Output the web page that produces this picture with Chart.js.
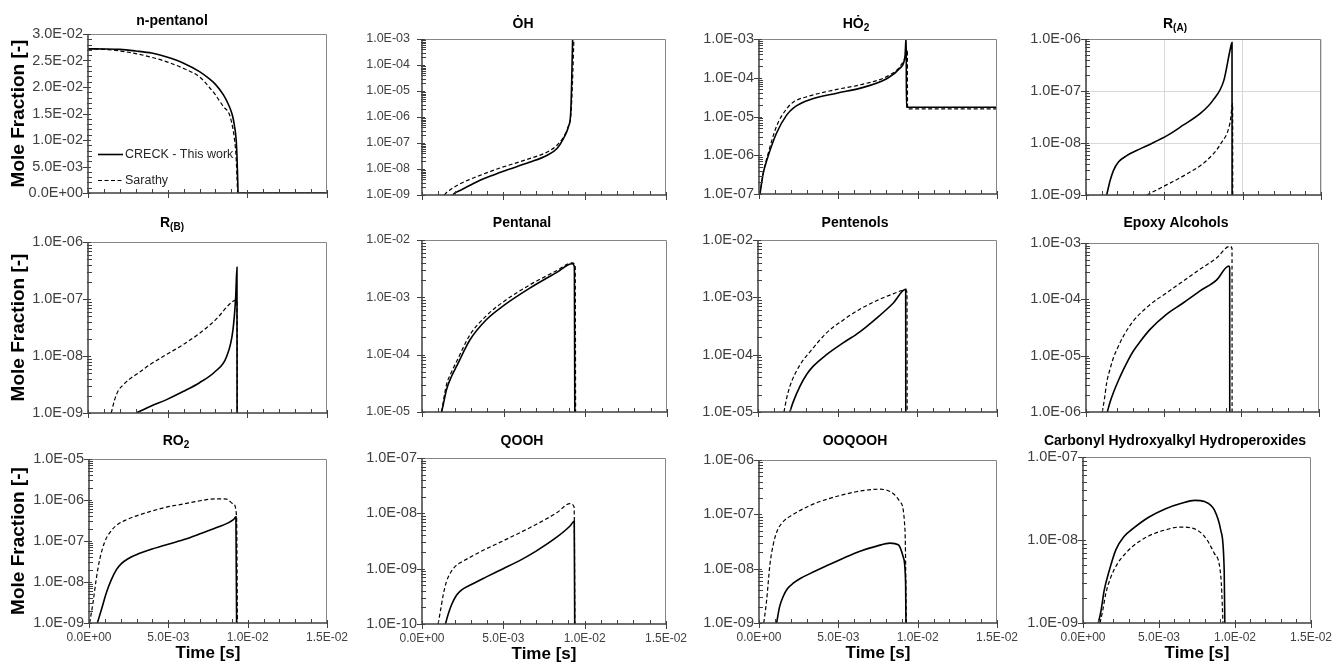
<!DOCTYPE html>
<html><head><meta charset="utf-8">
<script src="https://cdn.jsdelivr.net/npm/chart.js@4.4.1/dist/chart.umd.min.js"></script>
<style>
html,body{margin:0;padding:0;background:#fff;}
#wrap{position:relative;width:1339px;height:667px;overflow:hidden;background:#fff;}
#wrap canvas{position:absolute;left:0;top:0;}
</style></head><body><div id="wrap"></div>
<script>
// ---------- DATA: [time (s), mole fraction] ----------
const seriesLabels = ['CRECK - This work', 'Sarathy'];
const xTicks = [0, 0.005, 0.010, 0.015];

const pentanolYTicks = [0, 0.005, 0.010, 0.015, 0.020, 0.025, 0.030];
const pentanolCreck = [[0,0.0272],[0.001,0.02718],[0.002,0.0271],[0.003,0.0268],[0.004,0.0264],[0.005,0.0256],[0.006,0.0245],[0.007,0.0229],[0.0075,0.0218],[0.008,0.0205],[0.0085,0.0185],[0.0088,0.0168],[0.009,0.0153],[0.0091,0.0142],[0.0092,0.0125],[0.0093,0.0100],[0.00935,0.0070],[0.0094,0.0020],[0.00942,0],[0.015,0]];
const pentanolSarathy = [[0,0.0272],[0.001,0.0271],[0.002,0.0268],[0.003,0.0263],[0.004,0.0256],[0.005,0.0247],[0.006,0.0235],[0.007,0.0219],[0.0076,0.0200],[0.008,0.0185],[0.0085,0.0163],[0.00885,0.0150],[0.009,0.0135],[0.0092,0.0100],[0.0093,0.0065],[0.00935,0.0030],[0.0094,0],[0.015,0]];

const ohYTicks = [1e-9,1e-8,1e-7,1e-6,1e-5,1e-4,1e-3];
const ohCreck = [[0.00189,1e-9],[0.00203,1.2e-9],[0.00234,1.5e-9],[0.00295,2.36e-9],[0.00357,3.7e-9],[0.0043,5.6e-9],[0.005,8.2e-9],[0.0066,1.8e-8],[0.0077,3.4e-8],[0.0083,6.1e-8],[0.0087,1.5e-7],[0.009,4.2e-7],[0.00914,1.4e-6],[0.0092,2e-5],[0.00926,1e-3],[0.0093,3e-3],[0.015,3e-3]];
const ohSarathy = [[0.00137,1e-9],[0.00152,1.27e-9],[0.00182,1.75e-9],[0.00234,2.7e-9],[0.00295,4e-9],[0.00357,5.7e-9],[0.0043,8.5e-9],[0.005,1.2e-8],[0.0066,2.5e-8],[0.0077,4.5e-8],[0.0083,8.2e-8],[0.0087,1.7e-7],[0.009,4.4e-7],[0.00916,1.4e-6],[0.00925,2e-5],[0.00934,1e-3],[0.0094,3e-3],[0.015,3e-3]];

const ho2YTicks = [1e-7,1e-6,1e-5,1e-4,1e-3];
const ho2Creck = [[0.00006,1e-7],[0.00027,3.5e-7],[0.0005,7.6e-7],[0.0011,3.7e-6],[0.00175,1.1e-5],[0.0022,1.7e-5],[0.0032,2.7e-5],[0.0049,4e-5],[0.0064,5.4e-5],[0.0081,9.7e-5],[0.0089,1.8e-4],[0.0092,3.5e-4],[0.00928,1.2e-3],[0.00929,1.74e-5],[0.015,1.74e-5]];
const ho2Sarathy = [[0.00006,1e-7],[0.0003,4e-7],[0.0005,8.5e-7],[0.0011,5.5e-6],[0.00175,1.6e-5],[0.0022,2.4e-5],[0.0032,3.4e-5],[0.0049,5e-5],[0.0064,6.6e-5],[0.0081,1.1e-4],[0.0089,2e-4],[0.0093,4.2e-4],[0.00935,5.3e-4],[0.00936,1.57e-5],[0.015,1.57e-5]];

const raYTicks = [1e-9,1e-8,1e-7,1e-6];
const raCreck = [[0.00132,1e-9],[0.00154,1.9e-9],[0.00175,2.95e-9],[0.00207,4.3e-9],[0.0026,5.7e-9],[0.00345,7.7e-9],[0.0041,9.5e-9],[0.0052,1.4e-8],[0.0062,2.2e-8],[0.0073,3.7e-8],[0.0081,6.6e-8],[0.0088,1.6e-7],[0.0092,6.2e-7],[0.00932,8.5e-7],[0.00933,1e-12]];
const raSarathy = [[0.00388,1e-9],[0.0052,1.6e-9],[0.0064,2.5e-9],[0.0077,4.6e-9],[0.0086,9.7e-9],[0.0092,2.5e-8],[0.00936,5.7e-8],[0.00937,1e-12]];

const rbYTicks = [1e-9,1e-8,1e-7,1e-6];
const rbCreck = [[0.00303,1e-9],[0.0039,1.3e-9],[0.0049,1.7e-9],[0.006,2.4e-9],[0.007,3.4e-9],[0.008,5.4e-9],[0.0087,9.8e-9],[0.0091,2.9e-8],[0.00927,1.1e-7],[0.00935,3.6e-7],[0.00936,1e-12]];
const rbSarathy = [[0.00146,1e-9],[0.00167,1.7e-9],[0.00188,2.4e-9],[0.0022,3.1e-9],[0.00262,3.95e-9],[0.00324,5.2e-9],[0.00387,7e-9],[0.0049,1.05e-8],[0.006,1.6e-8],[0.007,2.5e-8],[0.008,4.3e-8],[0.0091,9.1e-8],[0.00935,9.5e-8],[0.0094,1e-12]];

const pentanalYTicks = [1e-5,1e-4,1e-3,1e-2];
const pentanalCreck = [[0.0012,1e-5],[0.0013,1.34e-5],[0.0015,2.45e-5],[0.00181,4.2e-5],[0.00212,6.3e-5],[0.00293,1.8e-4],[0.00395,4.1e-4],[0.00497,7.1e-4],[0.0066,1.45e-3],[0.00823,2.7e-3],[0.0092,3.85e-3],[0.00933,3.4e-3],[0.00938,1e-8]];
const pentanalSarathy = [[0.0012,1e-5],[0.0013,1.5e-5],[0.0015,3e-5],[0.00181,5e-5],[0.00212,7.6e-5],[0.00293,2.2e-4],[0.00395,4.8e-4],[0.00497,8.3e-4],[0.0066,1.65e-3],[0.00823,2.9e-3],[0.0092,4e-3],[0.00938,3.5e-3],[0.00942,1e-8]];

const pentenolsYTicks = [1e-5,1e-4,1e-3,1e-2];
const pentenolsCreck = [[0.002,1e-5],[0.00221,1.5e-5],[0.00263,2.8e-5],[0.00305,4.5e-5],[0.00347,6.3e-5],[0.0043,1e-4],[0.00534,1.6e-4],[0.00639,2.5e-4],[0.00743,4.3e-4],[0.00848,7.9e-4],[0.00927,1.38e-3],[0.00928,1e-8]];
const pentenolsSarathy = [[0.00163,1e-5],[0.0018,1.75e-5],[0.002,2.8e-5],[0.00232,4.6e-5],[0.00273,7.3e-5],[0.00326,1.12e-4],[0.0043,2.4e-4],[0.00534,4e-4],[0.00639,6.2e-4],[0.00743,8.7e-4],[0.00848,1.15e-3],[0.00927,1.35e-3],[0.00935,1.2e-3],[0.00937,1e-8]];

const epoxyYTicks = [1e-6,1e-5,1e-4,1e-3];
const epoxyCreck = [[0.00137,1e-6],[0.00155,1.5e-6],[0.00176,2.2e-6],[0.0021,3.7e-6],[0.0024,5.6e-6],[0.0027,8.2e-6],[0.00304,1.2e-5],[0.0035,1.8e-5],[0.00411,2.9e-5],[0.00518,5.4e-5],[0.00625,8.6e-5],[0.00732,1.4e-4],[0.0084,2.2e-4],[0.0092,3.9e-4],[0.00925,3.6e-4],[0.00926,1e-10]];
const epoxySarathy = [[0.00105,1e-6],[0.0012,1.8e-6],[0.00133,3.3e-6],[0.00155,5.8e-6],[0.00176,9.1e-6],[0.0021,1.5e-5],[0.0024,2.2e-5],[0.00304,4.1e-5],[0.00411,8e-5],[0.00518,1.3e-4],[0.00625,2.1e-4],[0.00732,3.4e-4],[0.0084,5.4e-4],[0.00925,8.7e-4],[0.0094,8e-4],[0.00941,1e-10]];

const ro2YTicks = [1e-9,1e-8,1e-7,1e-6,1e-5];
const ro2Creck = [[0.000526,1e-9],[0.00078,2.1e-9],[0.00109,5.4e-9],[0.00141,1.14e-8],[0.00173,2e-8],[0.00204,2.8e-8],[0.00246,3.7e-8],[0.0032,5e-8],[0.00383,6.1e-8],[0.00488,8.1e-8],[0.00594,1.07e-7],[0.007,1.5e-7],[0.008,2.1e-7],[0.0091,3.3e-7],[0.00926,3.9e-7],[0.00936,1e-13]];
const ro2Sarathy = [[0.00004,1e-9],[0.00025,3.1e-9],[0.00046,1.2e-8],[0.00067,3.5e-8],[0.00099,9.5e-8],[0.00131,1.6e-7],[0.00173,2.4e-7],[0.00236,3.3e-7],[0.00383,5.2e-7],[0.00488,6.7e-7],[0.00594,8e-7],[0.007,9.6e-7],[0.008,1.07e-6],[0.00867,1.05e-6],[0.0091,8e-7],[0.0093,4e-7],[0.0094,1e-13]];

const qoohYTicks = [1e-10,1e-9,1e-8,1e-7];
const qoohCreck = [[0.00144,1e-10],[0.0016,1.47e-10],[0.00181,2.2e-10],[0.00212,3.3e-10],[0.00242,4.1e-10],[0.00294,5e-10],[0.00396,7.1e-10],[0.00499,1e-9],[0.006,1.4e-9],[0.00704,2.1e-9],[0.00828,3.7e-9],[0.0091,5.9e-9],[0.00936,7.2e-9],[0.00944,1e-14]];
const qoohSarathy = [[0.00099,1e-10],[0.00113,1.7e-10],[0.0013,3.3e-10],[0.0015,5.8e-10],[0.0017,7.9e-10],[0.002,1.07e-9],[0.00232,1.26e-9],[0.00294,1.6e-9],[0.00355,2e-9],[0.005,3.2e-9],[0.00663,5.5e-9],[0.00828,1.02e-8],[0.0091,1.5e-8],[0.00935,1.3e-8],[0.00945,1e-14]];

const ooqoohYTicks = [1e-9,1e-8,1e-7,1e-6];
const ooqoohCreck = [[0.00111,1e-9],[0.0013,2e-9],[0.00153,3.1e-9],[0.0018,4.3e-9],[0.00216,5.4e-9],[0.0026,6.6e-9],[0.00321,8.1e-9],[0.00426,1.13e-8],[0.00531,1.56e-8],[0.00637,2.1e-8],[0.00742,2.6e-8],[0.00826,2.95e-8],[0.00878,2.75e-8],[0.0091,1.6e-8],[0.00924,5.4e-9],[0.00929,1e-10]];
const ooqoohSarathy = [[0.0003,1e-9],[0.00048,2.6e-9],[0.00069,1.2e-8],[0.0009,2.8e-8],[0.00115,5e-8],[0.0015,7.2e-8],[0.00216,1e-7],[0.00321,1.45e-7],[0.00384,1.72e-7],[0.00531,2.3e-7],[0.00678,2.8e-7],[0.00763,2.9e-7],[0.00847,2.4e-7],[0.00889,1.7e-7],[0.0092,5.2e-8],[0.00932,1e-10]];

const carbonylYTicks = [1e-9,1e-8,1e-7];
const carbonylCreck = [[0.00101,1e-9],[0.00119,1.42e-9],[0.0014,2.5e-9],[0.00173,4.3e-9],[0.00216,7.6e-9],[0.0027,1.1e-8],[0.00324,1.35e-8],[0.00432,1.88e-8],[0.0054,2.37e-8],[0.00648,2.77e-8],[0.00734,3e-8],[0.008,2.9e-8],[0.00864,2.3e-8],[0.00907,1.3e-8],[0.00929,4.3e-9],[0.00936,3e-10]];
const carbonylSarathy = [[0.00112,1e-9],[0.0013,1.42e-9],[0.00151,2.3e-9],[0.00184,3.6e-9],[0.00227,5.2e-9],[0.0028,6.9e-9],[0.00324,8.3e-9],[0.00432,1.12e-8],[0.0054,1.32e-8],[0.00637,1.43e-8],[0.00713,1.4e-8],[0.008,1.1e-8],[0.00864,6.9e-9],[0.00907,3.6e-9],[0.00931,3e-10]];

// ---------- LAYOUT ----------
const FONT = "'Liberation Sans', 'DejaVu Sans', Arial, sans-serif";
const panels = [
  {title:[['n-pentanol']], c:pentanolCreck, s:pentanolSarathy, yt:pentanolYTicks, log:false, box:[88,34,327,193], tx:172, ty:25, yTitle:true, legend:true, yFont:14.5, yPad:5},
  {title:[['\u022EH']], c:ohCreck, s:ohSarathy, yt:ohYTicks, log:true, box:[422,39,666,195], tx:523, ty:28, yFont:12.5, yPad:12},
  {title:[['H\u022E'],['2',1]], c:ho2Creck, s:ho2Sarathy, yt:ho2YTicks, log:true, box:[759,39,997,194], tx:856, ty:28, yFont:14.5, yPad:5},
  {title:[['R'],['(A)',1]], c:raCreck, s:raSarathy, yt:raYTicks, log:true, box:[1086,39,1321,195], tx:1175, ty:28, yFont:14.5, yPad:5, grid:true},
  {title:[['R'],['(B)',1]], c:rbCreck, s:rbSarathy, yt:rbYTicks, log:true, box:[88,242,327,413], tx:172, ty:227, yTitle:true, yFont:14.5, yPad:5},
  {title:[['Pentanal']], c:pentanalCreck, s:pentanalSarathy, yt:pentanalYTicks, log:true, box:[422,240,667,412], tx:522, ty:227, yFont:12.5, yPad:12},
  {title:[['Pentenols']], c:pentenolsCreck, s:pentenolsSarathy, yt:pentenolsYTicks, log:true, box:[758,240,997,412], tx:855, ty:227, yFont:14.5, yPad:5},
  {title:[['Epoxy Alcohols']], c:epoxyCreck, s:epoxySarathy, yt:epoxyYTicks, log:true, box:[1086,243,1319,412], tx:1176, ty:227, yFont:14.5, yPad:5},
  {title:[['RO'],['2',1]], c:ro2Creck, s:ro2Sarathy, yt:ro2YTicks, log:true, box:[89,459,327,623], tx:176, ty:445, yTitle:true, showX:true, yFont:14.5, yPad:5},
  {title:[['QOOH']], c:qoohCreck, s:qoohSarathy, yt:qoohYTicks, log:true, box:[422,458,666,624], tx:522, ty:445, showX:true, yFont:14.5, yPad:5},
  {title:[['OOQOOH']], c:ooqoohCreck, s:ooqoohSarathy, yt:ooqoohYTicks, log:true, box:[759,460,997,623], tx:855, ty:445, showX:true, yFont:14.5, yPad:5},
  {title:[['Carbonyl Hydroxyalkyl Hydroperoxides']], c:carbonylCreck, s:carbonylSarathy, yt:carbonylYTicks, log:true, box:[1083,457,1315,623], tx:1175, ty:445, showX:true, yFont:14.5, yPad:5}
];

function sci(v){
  if (Math.abs(v) < 1e-15) return '0.0E+00';
  let e = Math.floor(Math.log10(Math.abs(v)) + 1e-9);
  let m = v / Math.pow(10, e);
  if (Math.abs(m) >= 9.95) { m /= 10; e += 1; }
  return m.toFixed(1) + 'E' + (e < 0 ? '-' : '+') + String(Math.abs(e)).padStart(2, '0');
}

function makePlugin(p){
  return {
    id: 'decor',
    afterDraw(chart){
      const ctx = chart.ctx, a = chart.chartArea;
      const xs = chart.scales.x, ys = chart.scales.y;
      ctx.save();
      ctx.lineWidth = 1;
      ctx.strokeStyle = '#858585';
      ctx.beginPath();
      ctx.moveTo(a.left, a.top + 0.5); ctx.lineTo(a.right - 0.5, a.top + 0.5); ctx.lineTo(a.right - 0.5, a.bottom);
      ctx.stroke();
      ctx.strokeStyle = '#404040';
      ctx.lineWidth = 1.5;
      ctx.beginPath();
      ctx.moveTo(a.left, a.top); ctx.lineTo(a.left, a.bottom); ctx.lineTo(a.right, a.bottom);
      ctx.stroke();
      ctx.lineWidth = 1;
      ctx.beginPath();
      for (let k = 0; k <= 15; k++) {
        const px = Math.round(xs.getPixelForValue(k * 0.001)) + 0.5;
        if (k % 5 === 0) { ctx.moveTo(px, a.bottom - 3); ctx.lineTo(px, a.bottom + 5); }
        else { ctx.moveTo(px, a.bottom - 4); ctx.lineTo(px, a.bottom); }
      }
      p.yt.forEach(v => {
        const py = Math.round(ys.getPixelForValue(v)) + 0.5;
        ctx.moveTo(a.left - 5, py); ctx.lineTo(a.left + 3, py);
      });
      if (p.log) {
        for (let i = 0; i < p.yt.length - 1; i++) {
          for (let k = 2; k <= 9; k++) {
            const py = Math.round(ys.getPixelForValue(p.yt[i] * k)) + 0.5;
            ctx.moveTo(a.left - 1, py); ctx.lineTo(a.left + 4, py);
          }
        }
      } else {
        for (let k = 1; k < 30; k++) {
          if (k % 5 === 0) continue;
          const py = Math.round(ys.getPixelForValue(k * 0.001)) + 0.5;
          ctx.moveTo(a.left - 1, py); ctx.lineTo(a.left + 4, py);
        }
      }
      ctx.stroke();
      const big = 'bold 14px ' + FONT, small = 'bold 10px ' + FONT;
      let total = 0;
      p.title.forEach(seg => { ctx.font = seg[1] ? small : big; total += ctx.measureText(seg[0]).width; });
      let x = p.tx - total / 2;
      ctx.fillStyle = '#000';
      ctx.textBaseline = 'alphabetic';
      ctx.textAlign = 'left';
      p.title.forEach(seg => {
        ctx.font = seg[1] ? small : big;
        ctx.fillText(seg[0], x, p.ty + (seg[1] ? 3 : 0));
        x += ctx.measureText(seg[0]).width;
      });
      if (p.legend) {
        const rows = [154, 180];
        chart.data.datasets.forEach((ds, i) => {
          const y = rows[i] + 0.5;
          ctx.strokeStyle = ds.borderColor;
          ctx.lineWidth = ds.borderWidth;
          ctx.setLineDash(ds.borderDash || []);
          ctx.beginPath(); ctx.moveTo(98, y); ctx.lineTo(123, y); ctx.stroke();
          ctx.setLineDash([]);
          ctx.fillStyle = '#262626';
          ctx.font = '12.5px ' + FONT;
          ctx.textBaseline = 'middle';
          ctx.fillText(ds.label, 125, y);
        });
      }
      ctx.restore();
    }
  };
}

const wrap = document.getElementById('wrap');
panels.forEach(p => {
  const cv = document.createElement('canvas');
  cv.width = 1339; cv.height = 667;
  cv.style.width = '1339px'; cv.style.height = '667px';
  wrap.appendChild(cv);
  const [L, T, R, B] = p.box;
  const yW = p.yTitle ? L : 75;
  const xH = p.showX ? 42 : 0;
  new Chart(cv, {
    type: 'line',
    data: {
      datasets: [
        {label: seriesLabels[0], data: p.c, borderColor: '#000', borderWidth: 1.6, borderDash: [], pointRadius: 0, fill: false, cubicInterpolationMode: 'monotone'},
        {label: seriesLabels[1], data: p.s, borderColor: '#000', borderWidth: 1.2, borderDash: [4, 2.5], pointRadius: 0, fill: false, cubicInterpolationMode: 'monotone'}
      ]
    },
    options: {
      responsive: false, animation: false, devicePixelRatio: 1, events: [],
      layout: {padding: {left: L - yW, top: T, right: 1339 - R, bottom: 667 - B - xH}},
      plugins: {legend: {display: false}, title: {display: false}, tooltip: {enabled: false}},
      scales: {
        x: {
          type: 'linear', min: 0, max: 0.015,
          afterBuildTicks: s => { s.ticks = xTicks.map(v => ({value: v})); },
          afterFit: s => { s.height = xH; },
          grid: {display: !!p.grid, color: '#d9d9d9', drawTicks: false},
          border: {display: false},
          ticks: {display: !!p.showX, autoSkip: false, maxRotation: 0, padding: 7, color: '#404040', font: {family: FONT, size: 12}, callback: v => sci(v)},
          title: {display: !!p.showX, text: 'Time [s]', color: '#000', font: {family: FONT, size: 17, weight: 'bold'}, padding: {top: 0, bottom: 1}}
        },
        y: {
          type: p.log ? 'logarithmic' : 'linear',
          min: p.yt[0], max: p.yt[p.yt.length - 1],
          afterBuildTicks: s => { s.ticks = p.yt.map(v => ({value: v})); },
          afterFit: s => { s.width = yW; },
          grid: {display: !!p.grid, color: '#d9d9d9', drawTicks: false},
          border: {display: false},
          ticks: {autoSkip: false, padding: p.yPad, color: '#404040', font: {family: FONT, size: p.yFont}, callback: v => sci(v)},
          title: {display: !!p.yTitle, text: 'Mole Fraction [-]', color: '#000', font: {family: FONT, size: 19, weight: 'bold'}, padding: {top: 7, bottom: 0}}
        }
      }
    },
    plugins: [makePlugin(p)]
  });
});
</script>
</body></html>
